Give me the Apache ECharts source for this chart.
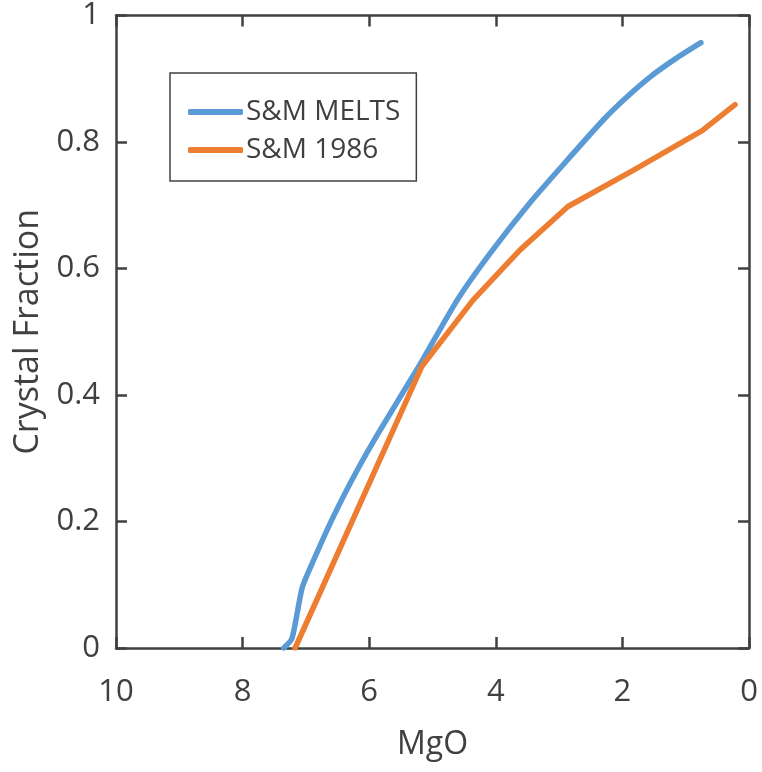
<!DOCTYPE html>
<html>
<head>
<meta charset="utf-8">
<script src="https://cdn.jsdelivr.net/npm/echarts@6/dist/echarts.min.js"></script>
<style>html,body{margin:0;padding:0;background:#fff}#c{width:762px;height:772px}</style>
</head>
<body>
<div id="c"></div>
<script>
const seriesNames = ['S&M MELTS', 'S&M 1986'];
const meltsMgO  = [7.35, 7.22, 7.06, 6.90, 6.57, 6.19, 5.83, 5.20, 4.61, 4.09, 3.46, 2.83, 2.31, 1.93, 1.56, 1.17, 0.76];
const meltsFrac = [0.000, 0.015, 0.095, 0.134, 0.207, 0.281, 0.344, 0.448, 0.550, 0.624, 0.704, 0.776, 0.834, 0.871, 0.903, 0.931, 0.957];
const s1986MgO  = [7.17, 5.17, 4.36, 3.62, 2.86, 1.83, 0.74, 0.22];
const s1986Frac = [0.000, 0.445, 0.550, 0.629, 0.698, 0.755, 0.818, 0.859];
const xTicks = [0, 2, 4, 6, 8, 10];
const yTicks = [0, 0.2, 0.4, 0.6, 0.8, 1];

const font = 'Open Sans';
const axisColor = '#404040';
const textColor = '#404040';

function pairs(xs, ys) { return xs.map((x, i) => [x, ys[i]]); }

const chart = echarts.init(document.getElementById('c'));
const baseAxisLine = { show: true, onZero: false, lineStyle: { color: axisColor, width: 2.5 } };
const baseTick = { show: true, inside: true, length: 11, lineStyle: { color: axisColor, width: 2.5 } };

chart.setOption({
  animation: false,
  backgroundColor: '#fff',
  grid: { left: 116, right: 13, top: 15, bottom: 124, containLabel: false },
  legend: {
    orient: 'vertical',
    left: 170, top: 73,
    padding: [24, 16, 16, 18],
    borderColor: axisColor, borderWidth: 1.5,
    itemWidth: 55, itemHeight: 6, itemGap: 8,
    icon: 'roundRect',
    textStyle: { fontFamily: font, fontSize: 28, color: textColor, lineHeight: 30, padding: [0, 0, 0, -2] },
    data: seriesNames
  },
  xAxis: [{
    type: 'value', min: 0, max: 10, interval: 2, inverse: true, position: 'bottom',
    name: 'MgO', nameLocation: 'middle', nameGap: 81,
    nameTextStyle: { fontFamily: font, fontSize: 32, color: textColor },
    axisLine: baseAxisLine, axisTick: baseTick,
    axisLabel: { fontFamily: font, fontSize: 31, color: textColor, margin: 29,
      formatter: v => xTicks.includes(v) ? String(v) : '' },
    splitLine: { show: false }
  }, {
    type: 'value', min: 0, max: 10, interval: 2, inverse: true, position: 'top',
    axisLine: baseAxisLine, axisTick: baseTick, axisLabel: { show: false }, splitLine: { show: false }
  }],
  yAxis: [{
    type: 'value', min: 0, max: 1, interval: 0.2, position: 'left',
    name: 'Crystal Fraction', nameLocation: 'middle', nameGap: 71,
    nameTextStyle: { fontFamily: font, fontSize: 34, color: textColor },
    axisLine: baseAxisLine, axisTick: baseTick,
    axisLabel: { fontFamily: font, fontSize: 31, color: textColor, margin: 16,
      formatter: v => { const t = yTicks.find(t => Math.abs(t - v) < 1e-6); return t === undefined ? '' : String(t); } },
    splitLine: { show: false }
  }, {
    type: 'value', min: 0, max: 1, interval: 0.2, position: 'right',
    axisLine: baseAxisLine, axisTick: baseTick, axisLabel: { show: false }, splitLine: { show: false }
  }],
  series: [{
    name: seriesNames[0], type: 'line', data: pairs(meltsMgO, meltsFrac),
    showSymbol: false, symbol: 'none', smooth: 0.2,
    lineStyle: { color: '#5B9BD5', width: 5.5, cap: 'round', join: 'round' },
    itemStyle: { color: '#5B9BD5' }
  }, {
    name: seriesNames[1], type: 'line', data: pairs(s1986MgO, s1986Frac),
    showSymbol: false, symbol: 'none',
    lineStyle: { color: '#ED7D31', width: 5.5, cap: 'round', join: 'round' },
    itemStyle: { color: '#ED7D31' }
  }]
});
</script>
</body>
</html>
